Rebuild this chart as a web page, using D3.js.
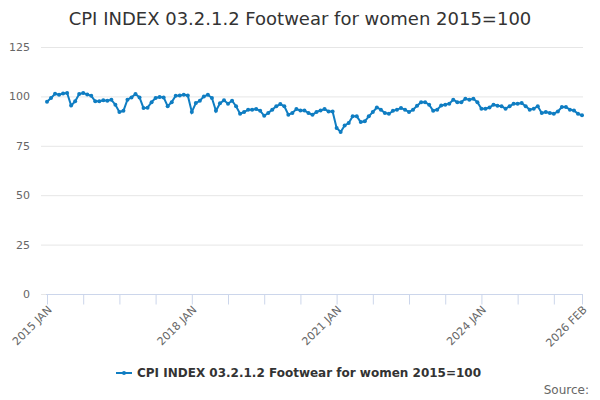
<!DOCTYPE html>
<html>
<head>
<meta charset="utf-8">
<script src="https://d3js.org/d3.v7.min.js"></script>
<style>
  body { margin: 0; background: #fff; }
  text { font-family: "DejaVu Sans", Verdana, sans-serif; }
</style>
</head>
<body>
<div id="chart"></div>
<script>
// monthly index values, 2015 JAN .. 2026 FEB
var startYear = 2015;
var months = ["JAN", "FEB", "MAR", "APR", "MAY", "JUN", "JUL", "AUG", "SEP", "OCT", "NOV", "DEC"];
var values = [
  97.3, 99.2, 101.3, 100.8, 101.5, 101.7, 95.4, 97.5, 101.2, 101.7, 101.0, 100.3,
  97.5, 97.5, 98.0, 97.8, 98.3, 95.8, 92.1, 92.7, 98.3, 99.5, 101.2, 99.5,
  94.1, 94.3, 97.1, 99.2, 99.7, 99.5, 95.0, 97.1, 100.3, 100.5, 100.8, 100.5,
  92.1, 96.6, 97.8, 100.0, 100.8, 99.2, 92.7, 96.5, 98.0, 96.3, 97.8, 95.0,
  91.2, 92.1, 93.3, 93.3, 93.6, 92.7, 90.2, 91.6, 93.3, 95.0, 96.1, 95.0,
  90.7, 91.6, 93.6, 92.9, 92.9, 91.6, 90.7, 92.1, 92.9, 93.6, 92.4, 92.4,
  84.0, 82.0, 85.3, 86.5, 89.9, 89.9, 87.0, 87.4, 89.9, 92.1, 94.4, 93.3,
  91.6, 91.2, 92.7, 93.3, 94.1, 93.3, 92.1, 93.3, 95.3, 97.1, 97.1, 95.8,
  92.7, 93.3, 95.4, 95.8, 96.3, 98.3, 97.1, 97.1, 98.8, 98.3, 98.8, 97.1,
  93.8, 93.8, 94.4, 95.8, 95.3, 95.0, 93.8, 95.0, 96.3, 96.3, 96.6, 95.0,
  93.3, 93.8, 95.0, 91.6, 92.1, 91.6, 91.2, 92.4, 94.6, 94.6, 93.3, 92.9,
  91.2, 90.4
];
var yTicks = [0, 25, 50, 75, 100, 125];
var labelEvery = 36, tickEvery = 9;
var titleText = "CPI INDEX 03.2.1.2 Footwear for women 2015=100";
var seriesName = "CPI INDEX 03.2.1.2 Footwear for women 2015=100";

var labels = values.map(function (v, i) {
  return (startYear + Math.floor(i / 12)) + " " + months[i % 12];
});
var data = values.map(function (v, i) { return { i: i, label: labels[i], value: v }; });

var width = 600, height = 400;
var margin = { top: 47, right: 18, bottom: 106, left: 47 };
var color = "#0f7dc2";

var svg = d3.select("#chart").append("svg")
  .attr("width", width).attr("height", height);

var x = d3.scaleLinear()
  .domain([0, values.length - 1])
  .range([margin.left, width - margin.right]);
var y = d3.scaleLinear()
  .domain([0, 125])
  .range([height - margin.bottom, margin.top]);

svg.append("text")
  .attr("x", width / 2).attr("y", 25)
  .attr("text-anchor", "middle")
  .style("font-size", "18px").style("fill", "#333")
  .text(titleText);

// grid + y labels
var gy = svg.append("g");
gy.selectAll("line").data(yTicks).enter().append("line")
  .attr("x1", margin.left - 6).attr("x2", width - margin.right + 1)
  .attr("y1", function (d) { return y(d) + 0.5; })
  .attr("y2", function (d) { return y(d) + 0.5; })
  .style("stroke", "#e6e6e6");
gy.selectAll("text").data(yTicks).enter().append("text")
  .attr("x", 30).attr("y", function (d) { return y(d) + 4; })
  .attr("text-anchor", "end")
  .style("font-size", "11px").style("fill", "#666")
  .text(function (d) { return d; });

// x axis
var tickIdx = d3.range(0, values.length, tickEvery);
tickIdx.push(values.length - 1);
var xAxis = d3.axisBottom(x)
  .tickValues(tickIdx)
  .tickSize(10)
  .tickFormat(function (d) {
    return (d % labelEvery === 0 || d === values.length - 1) ? labels[d] : "";
  });
var gx = svg.append("g")
  .attr("transform", "translate(0," + (y(0) + 0.5) + ")")
  .call(xAxis);
gx.select(".domain").style("stroke", "#ccd6eb").attr("d", "M" + (margin.left - 1) + ",0H" + (width - margin.right + 1));
gx.selectAll(".tick line").style("stroke", "#ccd6eb");
gx.selectAll(".tick text")
  .style("font-size", "11px").style("fill", "#666")
  .attr("text-anchor", "end")
  .attr("dy", null)
  .attr("transform", "translate(5,16) rotate(-45)")
  .attr("y", 0).attr("x", 0);

// series
var line = d3.line()
  .x(function (d) { return x(d.i); })
  .y(function (d) { return y(d.value); });
svg.append("path").datum(data)
  .attr("d", line)
  .style("fill", "none").style("stroke", color).style("stroke-width", 2);
svg.append("g").selectAll("circle").data(data).enter().append("circle")
  .attr("cx", function (d) { return x(d.i); })
  .attr("cy", function (d) { return y(d.value); })
  .attr("r", 2)
  .style("fill", color);

// legend
var lg = svg.append("g").attr("transform", "translate(116,373)");
lg.append("line").attr("x1", 0).attr("x2", 16).attr("y1", 0).attr("y2", 0)
  .style("stroke", color).style("stroke-width", 2);
lg.append("circle").attr("cx", 8).attr("cy", 0).attr("r", 2).style("fill", color);
lg.append("text").attr("x", 21).attr("y", 4)
  .style("font-size", "12px").style("font-weight", "bold").style("fill", "#333")
  .text(seriesName);

svg.append("text")
  .attr("x", 589).attr("y", 394)
  .attr("text-anchor", "end")
  .style("font-size", "12px").style("fill", "#666")
  .text("Source:");
</script>
</body>
</html>
